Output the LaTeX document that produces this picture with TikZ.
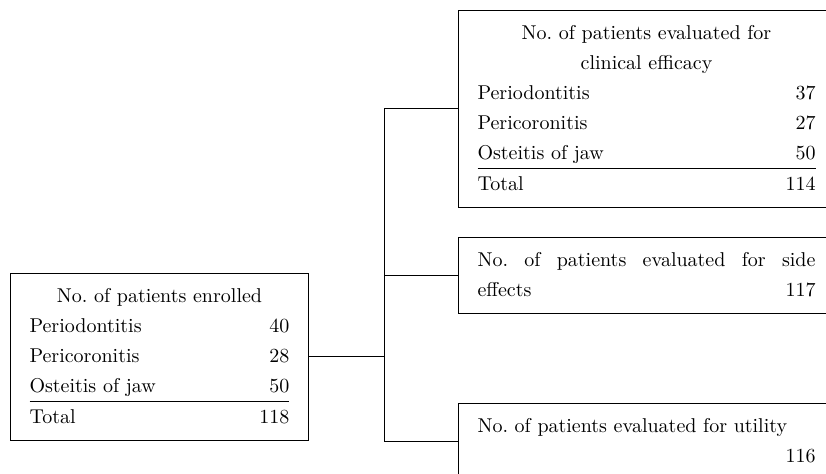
\documentclass[tikz,border=0pt]{standalone}
\usepackage{tikz}
\usepackage{array}
\usetikzlibrary{positioning, calc}
\renewcommand{\arraystretch}{1.25}

\begin{document}
\begin{tikzpicture}[
    x=0.5pt, y=-0.5pt,
    box/.style={draw,line width=0.5pt,anchor=north west,inner xsep=9.5pt,inner ysep=4pt,font=\normalsize},
    link/.style={line width=0.5pt},
  ]
    \useasboundingbox (0,0) rectangle (826,474);
    \clip (0,0) rectangle (826,474);

    \node[box] (enrolled) at (10,273) {\begin{tabular*}{130pt}{@{}l@{\extracolsep{\fill}}r@{}}
      \multicolumn{2}{@{}c@{}}{No.\ of patients enrolled}\\
      Periodontitis & 40\\
      Pericoronitis & 28\\
      Osteitis of jaw & 50\\ \hline
      Total & 118
    \end{tabular*}};
    \node[box] (efficacy) at (458,10) {\begin{tabular*}{169pt}{@{}l@{\extracolsep{\fill}}r@{}}
      \multicolumn{2}{@{}c@{}}{No.\ of patients evaluated for}\\
      \multicolumn{2}{@{}c@{}}{clinical efficacy}\\
      Periodontitis & 37\\
      Pericoronitis & 27\\
      Osteitis of jaw & 50\\ \hline
      Total & 114
    \end{tabular*}};
    \node[box] (sideeff) at (458,237) {\begin{tabular*}{169pt}{@{}l@{\extracolsep{\fill}}r@{}}
      \multicolumn{2}{@{}l@{}}{\makebox[169pt][s]{No.\ of patients evaluated for side}}\\
      effects & 117
    \end{tabular*}};
    \node[box] (utility) at (458,403) {\begin{tabular*}{169pt}{@{}l@{\extracolsep{\fill}}r@{}}
      \multicolumn{2}{@{}l@{}}{No.\ of patients evaluated for utility}\\
      & 116
    \end{tabular*}};

    \coordinate[right=37.5pt of enrolled] (split);

    \draw[link] (enrolled) -- (split);
    \draw[link] (split) |- (efficacy);
    \draw[link] (split) |- (sideeff);
    \draw[link] (split) |- (utility);
  \end{tikzpicture}
\end{document}
